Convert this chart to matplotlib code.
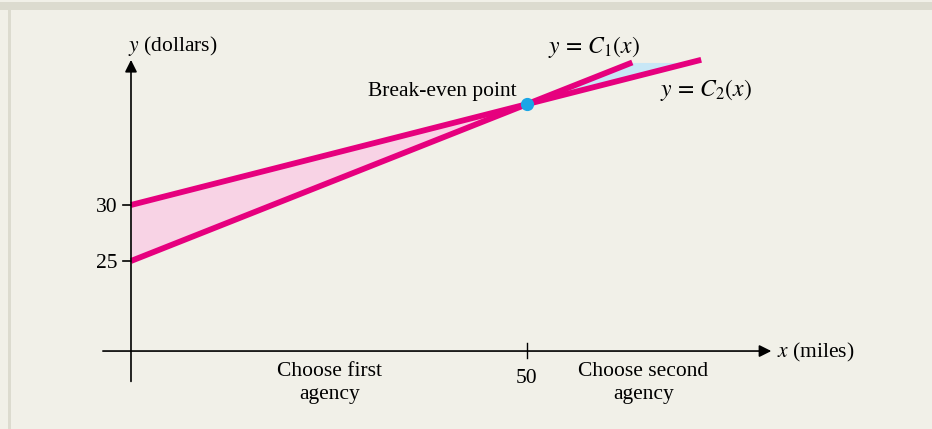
import numpy as np
import matplotlib.pyplot as plt

# cost lines y = a + b*x
c1_fixed, c1_rate = 25, 0.28
c2_fixed, c2_rate = 30, 0.18
c1_x_end = 63.3
c2_x_end = 72
break_even_x = 50
y_ticks = [25, 30]
x_ticks = [50]

plt.rcParams['font.family'] = ['Liberation Serif', 'DejaVu Serif']
plt.rcParams['mathtext.fontset'] = 'stix'

fig = plt.figure(figsize=(9.32, 4.29), dpi=100)
fig.patch.set_facecolor('#f1f0e8')
ax = fig.add_axes([0, 0, 1, 1])
ax.set_facecolor('#f1f0e8')
ax.set_xlim(-16.54, 101.14)
ax.set_ylim(10.0, 48.30)
ax.axis('off')

# frame strips at top/left
fig.add_artist(plt.Rectangle((0, 1 - 10 / 429), 1, 8 / 429, transform=fig.transFigure,
                             color='#dcdbcf', lw=0))
fig.add_artist(plt.Rectangle((8 / 932, 0), 3 / 932, 1 - 10 / 429, transform=fig.transFigure,
                             color='#dcdbcf', lw=0))

mag = '#e6007e'
x1 = np.linspace(0, c1_x_end, 200)
x2 = np.linspace(0, c2_x_end, 200)
y1 = c1_fixed + c1_rate * x1
y2 = c2_fixed + c2_rate * x2

# shading
xl = np.linspace(0, break_even_x, 100)
ax.fill_between(xl, c1_fixed + c1_rate * xl, c2_fixed + c2_rate * xl, color='#f8d3e5', lw=0)
top = c1_fixed + c1_rate * c1_x_end
xr = np.linspace(break_even_x, (top - c2_fixed) / c2_rate, 100)
upper = np.minimum(c1_fixed + c1_rate * xr, top)
ax.fill_between(xr, upper, c2_fixed + c2_rate * xr, color='#c8e7f6', lw=0)

# axes with arrows
y_axis_x = 0
x_axis_y = 16.96
ax.annotate('', xy=(81.2, x_axis_y), xytext=(-3.9, x_axis_y),
            arrowprops=dict(arrowstyle='-|>', color='black', lw=1.2, mutation_scale=18))
ax.annotate('', xy=(y_axis_x, 43.2), xytext=(y_axis_x, 14.0),
            arrowprops=dict(arrowstyle='-|>', color='black', lw=1.2, mutation_scale=18))

fs = 15.5
for t in y_ticks:
    ax.plot([-1.0, 0.4], [t, t], color='black', lw=1.2)
    ax.text(-1.7, t - 0.2, str(t), ha='right', va='center', fontsize=fs)
for t in x_ticks:
    ax.plot([t, t], [x_axis_y - 0.65, x_axis_y + 0.7], color='black', lw=1.0)
    ax.text(t, x_axis_y - 2.45, str(t), ha='center', va='center', fontsize=fs)

ax.plot(x1, y1, color=mag, lw=4.2, solid_capstyle='butt')
ax.plot(x2, y2, color=mag, lw=4.2, solid_capstyle='butt')

be_y = c1_fixed + c1_rate * break_even_x
ax.plot([break_even_x], [be_y], 'o', color='#1ba6e6', ms=8.5, zorder=5)

ax.text(48.7, 40.1, 'Break-even point', ha='right', va='center', fontsize=fs)
ax.text(52.6, 44.1, r'$y\,=\,C_1(x)$', ha='left', va='center', fontsize=17)
ax.text(66.8, 40.3, r'$y\,=\,C_2(x)$', ha='left', va='center', fontsize=17)
ax.text(81.6, x_axis_y - 0.15, r'$x$ (miles)', ha='left', va='center', fontsize=fs)
ax.text(-0.4, 44.2, r'$y$ (dollars)', ha='left', va='center', fontsize=fs)
ax.text(25.1, 14.1, 'Choose first\nagency', ha='center', va='center', fontsize=fs,
        linespacing=1.3)
ax.text(64.7, 14.1, 'Choose second\nagency', ha='center', va='center', fontsize=fs,
        linespacing=1.3)

fig.savefig('out.png', dpi=100, facecolor=fig.get_facecolor())
